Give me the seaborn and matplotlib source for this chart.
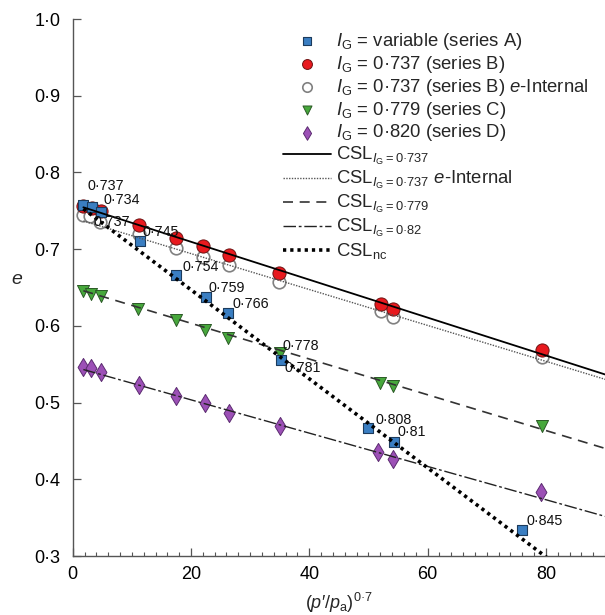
import numpy as np
import pandas as pd
import matplotlib
matplotlib.use("Agg")
import matplotlib.pyplot as plt
from matplotlib.ticker import FixedLocator, MultipleLocator
import seaborn as sns

# ---------------- data ----------------
# series A : I_G variable
a_x = [1.8, 3.2, 4.7, 11.3, 17.5, 22.6, 26.2, 35.2, 50.0, 54.3, 75.9]
a_e = [0.758, 0.755, 0.748, 0.710, 0.666, 0.638, 0.617, 0.556, 0.467, 0.448, 0.334]
# series B : I_G = 0.737
b_x = [1.8, 3.3, 4.7, 11.2, 17.5, 22.1, 26.5, 34.8, 52.1, 54.2, 79.4]
b_e = [0.756, 0.754, 0.750, 0.732, 0.714, 0.704, 0.692, 0.669, 0.628, 0.622, 0.569]
# series B : e-Internal
bi_x = [1.8, 3.0, 4.6, 11.2, 17.4, 22.1, 26.5, 34.8, 52.1, 54.2, 79.3]
bi_e = [0.745, 0.743, 0.736, 0.720, 0.701, 0.690, 0.679, 0.657, 0.619, 0.612, 0.560]
# series C : I_G = 0.779
c_x = [1.8, 3.1, 4.8, 11.1, 17.5, 22.3, 26.2, 35.0, 51.9, 54.2, 79.3]
c_e = [0.646, 0.642, 0.639, 0.622, 0.608, 0.595, 0.584, 0.565, 0.525, 0.521, 0.470]
# series D : I_G = 0.820
d_x = [1.8, 3.1, 4.8, 11.2, 17.5, 22.3, 26.4, 35.0, 51.6, 54.1, 79.2]
d_e = [0.547, 0.545, 0.540, 0.523, 0.508, 0.499, 0.487, 0.469, 0.436, 0.427, 0.383]

# CSL lines : e = Gamma - lambda * x
csl_names = ["CSL_0737", "CSL_0737_int", "CSL_0779", "CSL_082", "CSL_nc"]
csl_gamma = [0.759, 0.741, 0.650, 0.547, 0.763]
csl_lambda = [0.00247, 0.00234, 0.00233, 0.00217, 0.0058]
csl_xrange = [1.8, 92.0]

# point labels (I_G values)
lab_x = [1.8, 3.2, 4.7, 11.3, 17.5, 22.6, 26.2, 35.0, 35.2, 50.0, 54.3, 75.9]
lab_e = [0.758, 0.755, 0.748, 0.710, 0.666, 0.638, 0.617, 0.565, 0.556, 0.467, 0.448, 0.334]
lab_text = ["0·737", "0·734", "0·737", "0·745", "0·754", "0·759", "0·766",
            "0·778", "0·781", "0·808", "0·81", "0·845"]

x_ticks = [0, 20, 40, 60, 80]
x_tick_labels = ["0", "20", "40", "60", "80"]
y_ticks = [0.3, 0.4, 0.5, 0.6, 0.7, 0.8, 0.9, 1.0]
y_tick_labels = ["0·3", "0·4", "0·5", "0·6", "0·7", "0·8", "0·9", "1·0"]

series_labels = [
    r"$I_\mathrm{G}$ = variable (series A)",
    r"$I_\mathrm{G}$ = 0·737 (series B)",
    r"$I_\mathrm{G}$ = 0·737 (series B) $e$-Internal",
    r"$I_\mathrm{G}$ = 0·779 (series C)",
    r"$I_\mathrm{G}$ = 0·820 (series D)",
]
csl_labels = [
    r"CSL$_{I_\mathrm{G}\mathrm{=0·737}}$",
    r"CSL$_{I_\mathrm{G}\mathrm{=0·737}}$ $e$-Internal",
    r"CSL$_{I_\mathrm{G}\mathrm{=0·779}}$",
    r"CSL$_{I_\mathrm{G}\mathrm{=0·82}}$",
    r"CSL$_\mathrm{nc}$",
]

# ---------------- style ----------------
sns.set_style("ticks")
plt.rcParams["font.family"] = ["Liberation Sans", "DejaVu Sans"]
plt.rcParams["mathtext.fontset"] = "custom"
plt.rcParams["mathtext.rm"] = "Liberation Sans"
plt.rcParams["mathtext.it"] = "Liberation Sans:italic"
plt.rcParams["mathtext.bf"] = "Liberation Sans:bold"
plt.rcParams["mathtext.sf"] = "Liberation Sans"

fig = plt.figure(figsize=(6.05, 6.15), dpi=100)
ax = fig.add_axes([0.1202, 0.0959, 1 - 0.1202, 0.9691 - 0.0959])

series = [
    (a_x, a_e, dict(marker="s", s=50, color="#3a7ec2", edgecolor="#1c3b5c", linewidth=0.8), 6),
    (b_x, b_e, dict(marker="o", s=90, color="#e8191e", edgecolor="#6e1212", linewidth=0.7), 4),
    (bi_x, bi_e, dict(marker="o", s=82, color="white", edgecolor="#808080", linewidth=1.2), 3),
    (c_x, c_e, dict(marker="v", s=75, color="#47a83c", edgecolor="#2b5a26", linewidth=0.7), 5),
    (d_x, d_e, dict(marker="d", s=85, color="#9c50b6", edgecolor="#5b2b70", linewidth=0.7), 5),
]
for (sx, se, kw, z), lab in zip(series, series_labels):
    df = pd.DataFrame({"x": sx, "e": se})
    sns.scatterplot(data=df, x="x", y="e", ax=ax, label=lab, zorder=z, **kw)

line_styles = [
    dict(color="black", linewidth=1.3, linestyle="-"),
    dict(color="#555555", linewidth=1.0, linestyle=(0, (1, 1))),
    dict(color="#333333", linewidth=1.2, linestyle=(0, (6, 4))),
    dict(color="#222222", linewidth=1.0, linestyle=(0, (9, 2, 2, 2))),
    dict(color="black", linewidth=2.6, linestyle=(0, (0.9, 1.1))),
]
for g, lam, lab, st in zip(csl_gamma, csl_lambda, csl_labels, line_styles):
    xs = np.array(csl_xrange)
    df = pd.DataFrame({"x": xs, "e": g - lam * xs})
    sns.lineplot(data=df, x="x", y="e", ax=ax, label=lab, zorder=8, **st)

# point value labels
lab_off = [(4, 19), (12, 7), (-7, -10), (3, 9), (6, 8), (2, 9), (5, 9),
           (3, 7), (4, -8), (7, 8), (4, 10), (5, 9)]
for xv, ev, t, off in zip(lab_x, lab_e, lab_text, lab_off):
    ax.annotate(t, (xv, ev), xytext=off, textcoords="offset pixels",
                ha="left", va="center", fontsize=10.3, color="#111111", zorder=10)

ax.set_xlim(0, 90)
ax.set_ylim(0.3, 1.0)
ax.xaxis.set_major_locator(FixedLocator(x_ticks))
ax.set_xticklabels(x_tick_labels)
ax.xaxis.set_minor_locator(MultipleLocator(2))
ax.yaxis.set_major_locator(FixedLocator(y_ticks))
ax.set_yticklabels(y_tick_labels)
ax.tick_params(axis="both", which="both", direction="in", colors="#555555",
               labelcolor="black", labelsize=13)
ax.tick_params(axis="y", which="major", length=6, width=0.9, pad=9)
ax.tick_params(axis="x", which="major", length=6, width=0.9, pad=7)
ax.tick_params(axis="x", which="minor", length=3, width=0.8)
for sp in ["top", "right"]:
    ax.spines[sp].set_visible(False)
for sp in ["left", "bottom"]:
    ax.spines[sp].set_color("#555555")
    ax.spines[sp].set_linewidth(1.0)

ax.set_xlabel(r"($p$′/$p_\mathrm{a}$)$^{\mathrm{0·7}}$", fontsize=13, labelpad=6)
ax.set_ylabel(r"$e$", fontsize=14, rotation=0, labelpad=0)
ax.yaxis.set_label_coords(-0.105, 0.5)

handles, labels = ax.get_legend_handles_labels()
ax.legend(handles, labels, loc="upper left",
          bbox_to_anchor=(283 / 605, 1 - 31 / 615), bbox_transform=fig.transFigure,
          frameon=False, fontsize=13.3, handlelength=2.6, handletextpad=0.25,
          labelspacing=0.1, borderpad=0, borderaxespad=0, markerscale=0.75)

fig.savefig("out.png", dpi=100)
